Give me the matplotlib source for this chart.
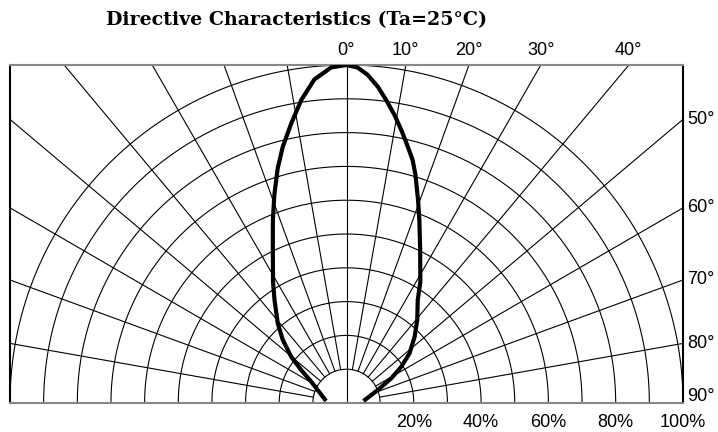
import numpy as np
import matplotlib
matplotlib.use("Agg")
import matplotlib.pyplot as plt

# relative intensity vs angle (right and left halves)
right_angle = [0, 1.9, 3.7, 5.7, 7.5, 9.5, 11.4, 13.5, 15.3, 16.9, 19.5, 21.8,
               25.8, 31.5, 34.8, 40.6, 45.9, 51.9, 56.6, 61.2, 67.5, 83.3]
right_intensity = [1.0, 0.993, 0.973, 0.940, 0.904, 0.864, 0.824, 0.780, 0.745,
                   0.705, 0.637, 0.583, 0.503, 0.420, 0.371, 0.323, 0.282,
                   0.238, 0.195, 0.152, 0.101, 0.051]
left_angle = [0, -2.6, -5.7, -8.5, -11.2, -14.0, -16.4, -19.2, -22.0, -25.8,
              -31.4, -35.1, -40.9, -45.4, -50.2, -54.1, -59.0, -84.4]
left_intensity = [1.0, 0.994, 0.962, 0.907, 0.844, 0.782, 0.724, 0.652, 0.584,
                  0.503, 0.419, 0.372, 0.312, 0.266, 0.214, 0.166, 0.122, 0.061]

grid_angles = list(range(-80, 90, 10))
grid_radii = [0.1, 0.2, 0.3, 0.4, 0.5, 0.6, 0.7, 0.8, 0.9, 1.0]
top_labels = [0, 10, 20, 30, 40]
side_labels = [50, 60, 70, 80, 90]
pct_labels = [20, 40, 60, 80, 100]

W, H = 718, 432
fig = plt.figure(figsize=(W / 100, H / 100), dpi=100)
ax = fig.add_axes([10 / W, (H - 403) / H, 673 / W, 338 / H])
ax.set_xlim(-1, 1)
ax.set_ylim(0, 1)
ax.set_xticks([])
ax.set_yticks([])
ax.spines['top'].set_color('#888888')
ax.spines['bottom'].set_color('#888888')
ax.spines['left'].set_color('black')
ax.spines['right'].set_color('black')
for s in ax.spines.values():
    s.set_linewidth(1.5)

# concentric circles
t = np.linspace(-np.pi / 2, np.pi / 2, 400)
for r in grid_radii:
    ax.plot(r * np.sin(t), r * np.cos(t), color='black', lw=0.8)

# radial lines (0 deg goes down to the centre, others stop at 10%)
for a in grid_angles:
    th = np.radians(a)
    r0 = 0.0 if a == 0 else 0.1
    ax.plot([r0 * np.sin(th), 2 * np.sin(th)], [r0 * np.cos(th), 2 * np.cos(th)],
            color='black', lw=0.8)

# curve
ang = np.radians(np.array(left_angle[::-1] + right_angle[1:]))
rr = np.array(left_intensity[::-1] + right_intensity[1:])
ax.plot(rr * np.sin(ang), rr * np.cos(ang), color='black', lw=3,
        solid_capstyle='butt', solid_joinstyle='round', zorder=5)

lab_font = dict(family='Liberation Sans', fontsize=13, color='black')
for a in top_labels:
    ax.text(np.tan(np.radians(a)), 1.043, f"{a}°", ha='center', va='center',
            clip_on=False, **lab_font)
for a in side_labels:
    y = max(1 / np.tan(np.radians(a)), 0.018)
    ax.text(1.013, y, f"{a}°", ha='left', va='center', clip_on=False, **lab_font)
for p in pct_labels:
    ax.text(p / 100, -0.057, f"{p}%", ha='center', va='center', clip_on=False,
            **lab_font)

fig.text(297 / W, 1 - 20 / H, "Directive Characteristics (Ta=25°C)",
         ha='center', va='center', family='DejaVu Serif', fontweight='bold',
         fontsize=13.7)

fig.savefig("out.png", dpi=100)
